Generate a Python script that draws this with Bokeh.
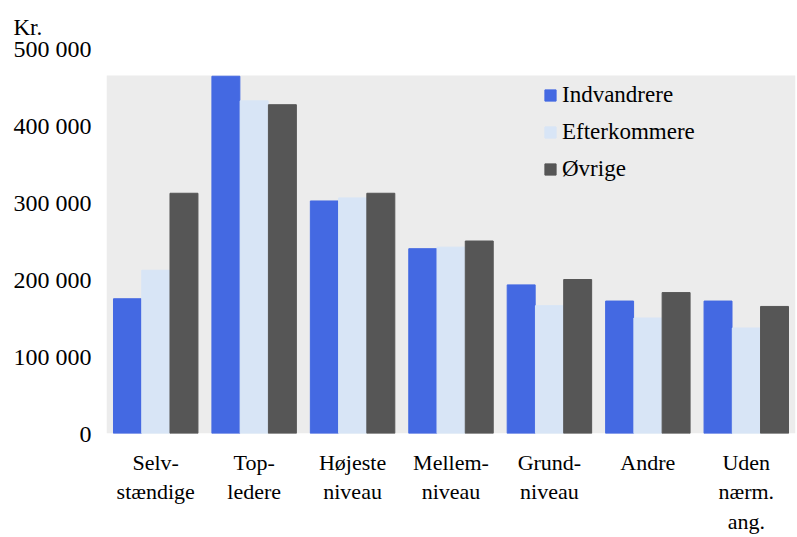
from bokeh.plotting import figure
from bokeh.models import Range1d, FixedTicker, BoxAnnotation, Legend, LegendItem, ColumnDataSource
from bokeh.embed import file_html
from bokeh.resources import INLINE

categories = ["Selv-\nstændige", "Top-\nledere", "Højeste\nniveau", "Mellem-\nniveau",
              "Grund-\nniveau", "Andre", "Uden\nnærm.\nang."]
indvandrere = [175000, 464000, 302000, 240000, 193000, 172000, 172000]
efterkommere = [212000, 432000, 306000, 242000, 166000, 150000, 137000]
ovrige = [312000, 427000, 312000, 250000, 200000, 183000, 165000]
series_names = ["Indvandrere", "Efterkommere", "Øvrige"]
y_ticks = [0, 100000, 200000, 300000, 400000, 500000]
y_tick_labels = ["0", "100 000", "200 000", "300 000", "400 000", "500 000"]
unit_label = "Kr."

colors = ["#4469e2", "#d8e5f6", "#565656"]
FONT = "Liberation Serif"

W, H = 797, 537
p = figure(width=W, height=H, output_backend="svg", toolbar_location=None,
           x_range=Range1d(-0.5, len(categories) - 0.5), y_range=Range1d(0, 500000),
           min_border_left=106, min_border_right=2, min_border_top=48, min_border_bottom=104,
           title=unit_label)
p.outline_line_color = None
p.xgrid.visible = False
p.ygrid.visible = False
p.background_fill_color = "white"
p.border_fill_color = "white"

p.title.align = "left"
p.title.offset = -93
p.title.standoff = 18
p.title.text_font = FONT
p.title.text_font_size = "23px"
p.title.text_font_style = "normal"
p.title.text_color = "black"

bg = BoxAnnotation(left=-0.5, right=len(categories) - 0.5, bottom=0, top=465000,
                   fill_color="#ececec", fill_alpha=1.0, line_color=None, level="underlay")
p.add_layout(bg)

xs = list(range(len(categories)))
offsets = [-0.287, 0.0, 0.287]
renderers = []
for vals, off, col in zip([indvandrere, efterkommere, ovrige], offsets, colors):
    src = ColumnDataSource(dict(x=[x + off for x in xs], top=vals))
    r = p.vbar(x="x", top="top", width=0.284, bottom=0, source=src,
               fill_color=col, line_color=col)
    renderers.append(r)

# axes
p.xaxis.ticker = FixedTicker(ticks=xs)
p.xaxis.major_label_overrides = {i: c for i, c in enumerate(categories)}
p.yaxis.ticker = FixedTicker(ticks=y_ticks)
p.yaxis.major_label_overrides = {t: l for t, l in zip(y_ticks, y_tick_labels)}
for ax in (p.xaxis[0], p.yaxis[0]):
    ax.axis_line_color = None
    ax.major_tick_line_color = None
    ax.minor_tick_line_color = None
    ax.major_label_text_font = FONT
    ax.major_label_text_color = "black"
p.yaxis.major_label_text_font_size = "24px"
p.yaxis.major_label_standoff = 9
p.xaxis.major_label_text_font_size = "22px"
p.xaxis.major_label_standoff = 10
p.xaxis.major_label_text_line_height = 1.19

legend = Legend(items=[LegendItem(label=n, renderers=[r]) for n, r in zip(series_names, renderers)],
                location=(437, 246), orientation="vertical")
legend.background_fill_alpha = 0
legend.border_line_color = None
legend.padding = 0
legend.margin = 0
legend.spacing = 0
legend.glyph_width = 14
legend.glyph_height = 14
legend.label_height = 37
legend.label_standoff = 5
legend.label_text_font = FONT
legend.label_text_font_size = "23px"
legend.label_text_color = "black"
p.add_layout(legend)

open("out.html", "w").write(file_html(p, INLINE))
